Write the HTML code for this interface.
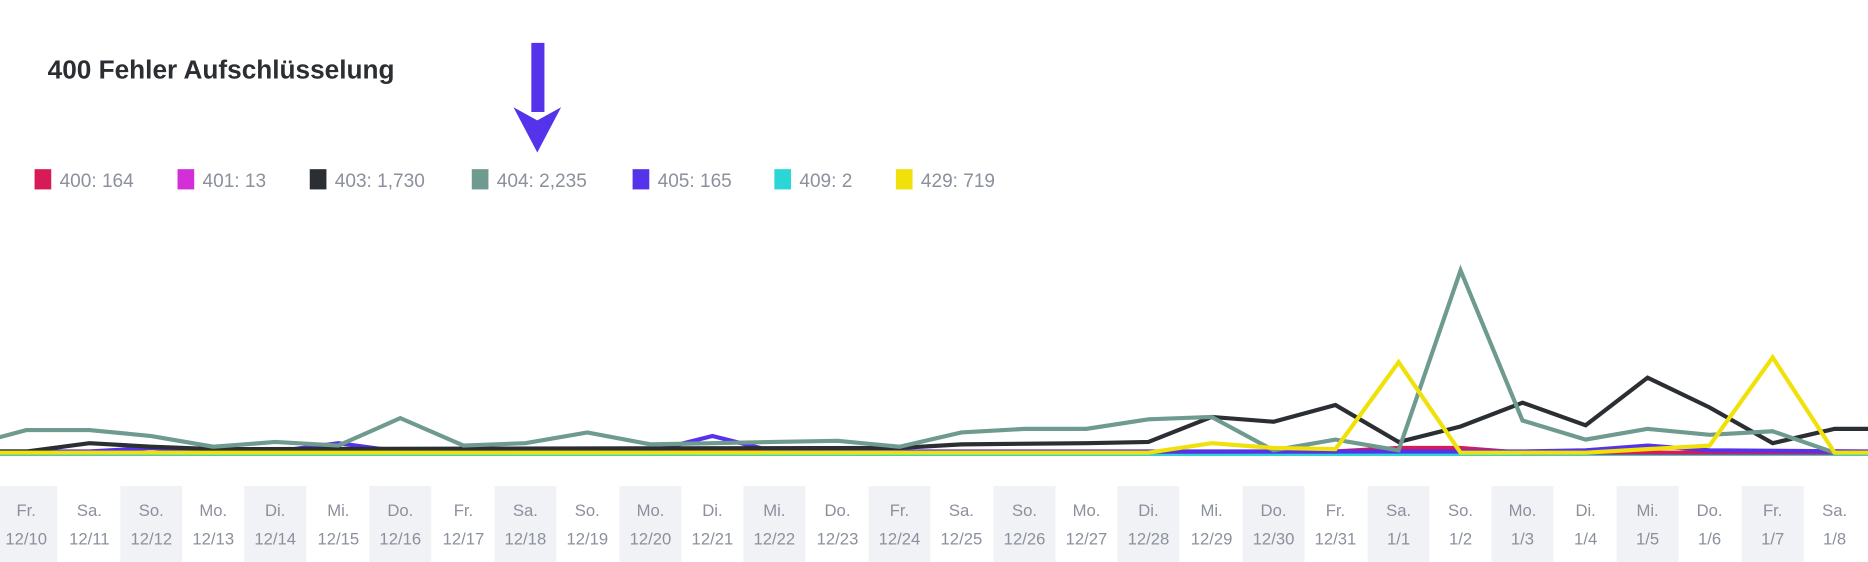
<!DOCTYPE html>
<html><head><meta charset="utf-8"><style>html,body{margin:0;padding:0;background:#fff}svg{display:block}</style></head><body>
<svg width="1868" height="562" viewBox="0 0 1568 471.75" xmlns="http://www.w3.org/2000/svg" font-family="Liberation Sans, sans-serif">
<rect width="1568" height="472" fill="#fff"/>
<text x="40" y="66" font-size="22" font-weight="bold" fill="#2b2e33">400 Fehler Aufschlüsselung</text>
<rect x="446" y="36" width="11" height="58" fill="#5533ea"/>
<polygon points="431,90 451,101 471,90 451,128" fill="#5533ea"/>
<g font-size="16" fill="#8b909c">
<rect x="29" y="142" width="14" height="17" fill="#d81b56"/><text x="50" y="157">400: 164</text>
<rect x="149" y="142" width="14" height="17" fill="#d22fd8"/><text x="170" y="157">401: 13</text>
<rect x="260" y="142" width="14" height="17" fill="#2b2e33"/><text x="281" y="157">403: 1,730</text>
<rect x="396" y="142" width="14" height="17" fill="#6f9a8f"/><text x="417" y="157">404: 2,235</text>
<rect x="531" y="142" width="14" height="17" fill="#5533ea"/><text x="552" y="157">405: 165</text>
<rect x="650" y="142" width="14" height="17" fill="#2bd6d6"/><text x="671" y="157">409: 2</text>
<rect x="752" y="142" width="14" height="17" fill="#f0e10a"/><text x="773" y="157">429: 719</text>
</g>
<g fill="#f1f2f6">
<rect x="-4" y="408" width="52" height="64"/><rect x="101" y="408" width="52" height="64"/><rect x="205" y="408" width="52" height="64"/><rect x="310" y="408" width="52" height="64"/><rect x="415" y="408" width="52" height="64"/><rect x="520" y="408" width="52" height="64"/><rect x="624" y="408" width="52" height="64"/><rect x="729" y="408" width="52" height="64"/><rect x="834" y="408" width="52" height="64"/><rect x="938" y="408" width="52" height="64"/><rect x="1043" y="408" width="52" height="64"/><rect x="1148" y="408" width="52" height="64"/><rect x="1252" y="408" width="52" height="64"/><rect x="1357" y="408" width="52" height="64"/><rect x="1462" y="408" width="52" height="64"/>
</g>
<g font-size="14" fill="#8b909c" text-anchor="middle">
<text x="22" y="433">Fr.</text><text x="22" y="457">12/10</text>
<text x="75" y="433">Sa.</text><text x="75" y="457">12/11</text>
<text x="127" y="433">So.</text><text x="127" y="457">12/12</text>
<text x="179" y="433">Mo.</text><text x="179" y="457">12/13</text>
<text x="231" y="433">Di.</text><text x="231" y="457">12/14</text>
<text x="284" y="433">Mi.</text><text x="284" y="457">12/15</text>
<text x="336" y="433">Do.</text><text x="336" y="457">12/16</text>
<text x="389" y="433">Fr.</text><text x="389" y="457">12/17</text>
<text x="441" y="433">Sa.</text><text x="441" y="457">12/18</text>
<text x="493" y="433">So.</text><text x="493" y="457">12/19</text>
<text x="546" y="433">Mo.</text><text x="546" y="457">12/20</text>
<text x="598" y="433">Di.</text><text x="598" y="457">12/21</text>
<text x="650" y="433">Mi.</text><text x="650" y="457">12/22</text>
<text x="703" y="433">Do.</text><text x="703" y="457">12/23</text>
<text x="755" y="433">Fr.</text><text x="755" y="457">12/24</text>
<text x="807" y="433">Sa.</text><text x="807" y="457">12/25</text>
<text x="860" y="433">So.</text><text x="860" y="457">12/26</text>
<text x="912" y="433">Mo.</text><text x="912" y="457">12/27</text>
<text x="964" y="433">Di.</text><text x="964" y="457">12/28</text>
<text x="1017" y="433">Mi.</text><text x="1017" y="457">12/29</text>
<text x="1069" y="433">Do.</text><text x="1069" y="457">12/30</text>
<text x="1121" y="433">Fr.</text><text x="1121" y="457">12/31</text>
<text x="1174" y="433">Sa.</text><text x="1174" y="457">1/1</text>
<text x="1226" y="433">So.</text><text x="1226" y="457">1/2</text>
<text x="1278" y="433">Mo.</text><text x="1278" y="457">1/3</text>
<text x="1331" y="433">Di.</text><text x="1331" y="457">1/4</text>
<text x="1383" y="433">Mi.</text><text x="1383" y="457">1/5</text>
<text x="1435" y="433">Do.</text><text x="1435" y="457">1/6</text>
<text x="1488" y="433">Fr.</text><text x="1488" y="457">1/7</text>
<text x="1540" y="433">Sa.</text><text x="1540" y="457">1/8</text>
</g>
<g fill="none" stroke-width="3.5" stroke-linejoin="miter">
<polyline stroke="#2bd6d6" points="0,381 964,381 1017,381 1568,381"/>
<polyline stroke="#d81b56" points="0,380 1121,379 1174,376 1226,376 1278,380 1568,380"/>
<polyline stroke="#5533ea" points="0,379 75,379 127,376 179,379 231,379 284,372 336,379 546,379 598,366 650,379 1278,379 1331,378 1383,374 1435,378 1568,379"/>
<polyline stroke="#2b2e33" points="0,379 22,379 75,372 127,375 179,377 755,376 807,373 912,372 964,371 1017,350 1069,354 1121,340 1174,371 1226,358 1278,338 1331,357 1383,317 1435,342 1488,372 1540,360 1568,360"/>
<polyline stroke="#6f9a8f" points="-30,375 22,361 75,361 127,366 179,375 231,371 284,374 336,351 389,374 441,372 493,363 546,373 598,372 650,371 703,370 755,375 807,363 860,360 912,360 964,352 1017,350 1069,378 1121,369 1174,378 1226,227 1278,353 1331,369 1383,360 1435,365 1488,362 1540,380 1568,380"/>
<polyline stroke="#f0e10a" points="0,380 964,380 1017,372 1069,376 1121,377 1174,304 1226,380 1331,380 1383,377 1435,374 1488,300 1540,380 1568,380"/>
</g>
</svg>
</body></html>
